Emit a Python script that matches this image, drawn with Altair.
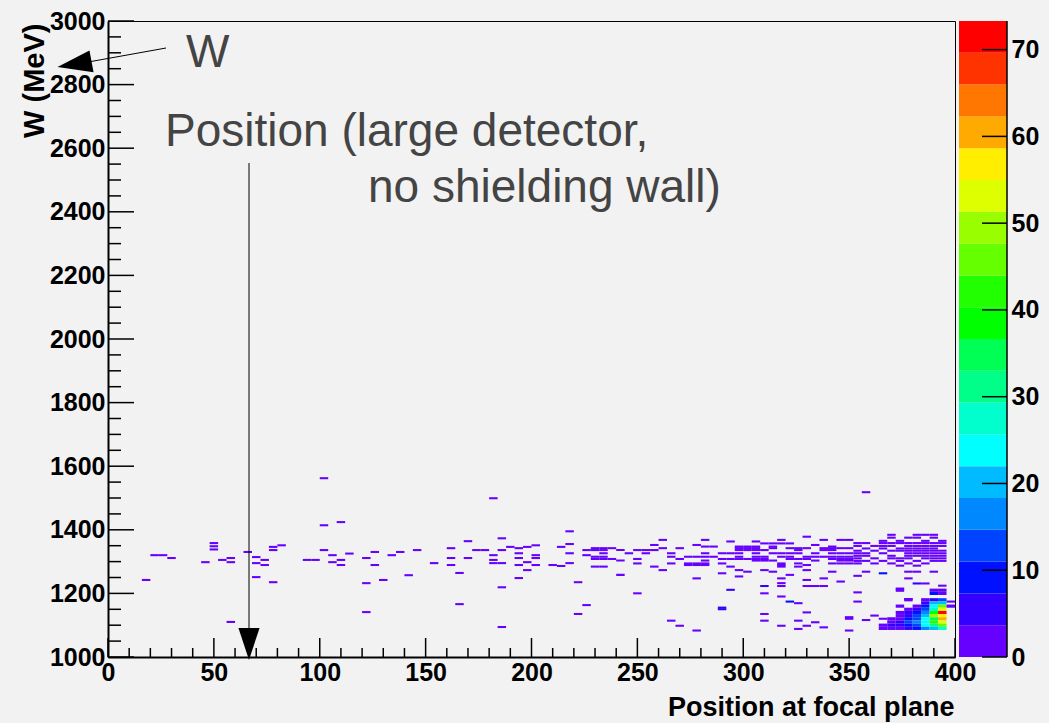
import altair as alt
import pandas as pd

# ---------------- data ----------------
# isolated cells, x < 228 : (position bin start, W bin start, counts)
sparse_cells = [
    (16, 1239, 1), (20, 1317, 1), (24, 1317, 1), (28, 1308, 1), (44, 1295, 1),
    (48, 1355, 1), (48, 1345, 1), (48, 1335, 1), (52, 1302, 1), (56, 1308, 1),
    (56, 1295, 1), (56, 1107, 1), (64, 1327, 1), (68, 1311, 1), (68, 1292, 1),
    (68, 1248, 1), (72, 1302, 1), (72, 1286, 1), (76, 1343, 1), (76, 1333, 1),
    (76, 1232, 1), (80, 1348, 1), (92, 1302, 1), (96, 1302, 1), (100, 1559, 1),
    (100, 1411, 1), (100, 1333, 1), (104, 1317, 1), (104, 1295, 1), (108, 1421, 1),
    (108, 1302, 1), (108, 1286, 1), (112, 1322, 1), (120, 1308, 1), (120, 1229, 1),
    (120, 1138, 1), (124, 1327, 1), (124, 1286, 1), (128, 1239, 1), (132, 1317, 1),
    (136, 1327, 1), (140, 1254, 1), (144, 1333, 1), (152, 1292, 1), (160, 1339, 1),
    (160, 1308, 1), (160, 1286, 1), (164, 1261, 1), (164, 1163, 1), (168, 1361, 3),
    (168, 1308, 1), (172, 1333, 1), (176, 1333, 1), (180, 1496, 1), (180, 1317, 1),
    (180, 1302, 1), (180, 1292, 1), (184, 1292, 1), (184, 1370, 1), (184, 1333, 3),
    (184, 1216, 1), (184, 1091, 1), (188, 1343, 1), (192, 1339, 1), (192, 1323, 1),
    (192, 1308, 1), (192, 1286, 1), (192, 1245, 1), (196, 1343, 1), (196, 1295, 1),
    (196, 1270, 1), (200, 1348, 1), (200, 1317, 1), (200, 1308, 1), (200, 1286, 1),
    (208, 1286, 1), (212, 1343, 1), (212, 1283, 1), (216, 1392, 1), (216, 1352, 1),
    (216, 1323, 1), (216, 1292, 1), (220, 1232, 1), (220, 1132, 1), (224, 1333, 1),
    (224, 1317, 1), (224, 1160, 1),
]

# band of cells, x 228-348
band_cells = [
    (328, 1375, 1),
    (260, 1365, 1), (280, 1365, 1), (316, 1365, 1), (336, 1365, 1), (344, 1365, 1), (348, 1365, 2),
    (292, 1360, 1), (304, 1360, 1),
    (308, 1354, 2), (312, 1354, 2), (316, 1354, 2), (320, 1354, 2),
    (256, 1349, 1), (276, 1349, 1), (332, 1349, 1),
    (280, 1344, 1), (284, 1344, 1), (296, 1344, 1), (300, 1344, 1), (304, 1344, 1), (312, 1344, 1), (340, 1344, 2),
    (228, 1339, 1), (232, 1339, 1), (236, 1339, 2), (260, 1339, 1), (268, 1339, 1), (296, 1339, 1),
    (300, 1339, 1), (304, 1339, 1), (312, 1339, 1), (320, 1339, 1), (324, 1339, 2), (328, 1339, 2),
    (336, 1339, 1), (340, 1339, 2), (344, 1339, 1), (348, 1339, 1),
    (228, 1333, 1), (232, 1333, 1), (240, 1333, 1), (248, 1333, 1), (252, 1333, 1), (256, 1333, 2),
    (296, 1333, 1), (300, 1333, 1), (304, 1333, 1), (308, 1333, 1), (324, 1333, 1), (336, 1333, 1), (340, 1333, 2),
    (232, 1323, 1), (244, 1323, 1), (252, 1323, 1), (264, 1323, 1), (280, 1323, 1), (288, 1323, 1),
    (292, 1323, 1), (296, 1323, 1), (304, 1323, 2), (312, 1323, 2), (316, 1323, 1), (320, 1323, 1),
    (324, 1323, 2), (332, 1323, 1), (340, 1323, 2), (344, 1323, 1), (348, 1323, 1),
    (228, 1312, 1), (232, 1312, 1), (264, 1312, 1), (272, 1312, 1), (276, 1312, 1), (280, 1312, 1),
    (284, 1312, 1), (296, 1312, 1), (304, 1312, 2), (308, 1312, 2), (316, 1312, 1), (320, 1312, 1),
    (328, 1312, 1), (332, 1312, 2), (336, 1312, 2), (340, 1312, 2), (344, 1312, 2), (348, 1312, 2),
    (228, 1305, 2), (232, 1305, 1), (236, 1305, 1), (248, 1305, 1), (268, 1305, 1), (288, 1305, 1),
    (292, 1305, 1), (296, 1305, 1), (300, 1305, 1), (304, 1305, 2), (308, 1305, 2), (320, 1305, 1),
    (324, 1305, 2), (328, 1305, 2), (340, 1305, 2), (344, 1305, 2), (348, 1305, 2),
    (240, 1300, 2), (280, 1300, 1), (304, 1300, 2), (308, 1300, 2), (312, 1300, 1), (332, 1300, 1),
    (344, 1300, 2), (348, 1300, 2),
    (248, 1291, 2), (264, 1291, 1), (272, 1291, 2), (276, 1291, 2), (280, 1291, 2), (288, 1291, 1),
    (316, 1291, 2), (324, 1291, 1), (340, 1291, 2), (344, 1291, 1), (348, 1291, 1),
    (272, 1286, 2), (276, 1286, 2), (280, 1286, 2), (316, 1286, 2), (328, 1286, 1),
    (228, 1281, 1), (232, 1281, 1), (256, 1281, 1), (292, 1281, 1), (316, 1281, 1), (324, 1281, 1),
    (260, 1270, 1), (296, 1270, 1), (308, 1270, 1), (328, 1270, 1),
    (300, 1265, 1), (312, 1265, 2), (340, 1265, 1),
    (288, 1260, 1), (240, 1255, 1), (320, 1255, 1), (296, 1250, 1),
    (276, 1244, 1), (316, 1244, 1), (336, 1244, 1), (328, 1239, 1), (344, 1234, 1), (316, 1229, 1),
    (308, 1220, 4), (316, 1220, 1), (328, 1220, 1), (332, 1220, 1), (336, 1220, 1),
    (292, 1208, 5), (248, 1197, 1), (308, 1197, 1), (316, 1187, 1), (320, 1171, 8), (324, 1166, 1),
    (288, 1152, 4), (288, 1147, 4), (328, 1137, 1), (308, 1132, 1), (348, 1122, 1),
    (264, 1111, 1), (308, 1111, 1), (324, 1111, 1), (332, 1106, 1),
    (268, 1095, 1), (316, 1095, 1), (328, 1095, 1), (336, 1090, 1), (324, 1085, 1),
    (276, 1080, 1), (348, 1080, 1),
]

# band of cells, x 352-396
right_cells = [
    (356, 1515, 1),
    (368, 1381, 1), (380, 1381, 1), (384, 1381, 1), (388, 1381, 1),
    (368, 1372, 1), (376, 1372, 1), (380, 1372, 1), (388, 1372, 1),
    (364, 1362, 1), (372, 1362, 1), (384, 1362, 1), (392, 1362, 1),
    (352, 1355, 2), (356, 1355, 2), (364, 1355, 2), (368, 1355, 1), (372, 1355, 1), (376, 1355, 2),
    (380, 1355, 2), (384, 1355, 2), (388, 1355, 2), (392, 1355, 2),
    (352, 1346, 1), (360, 1346, 1), (364, 1346, 1), (368, 1346, 1), (376, 1346, 1), (380, 1346, 2),
    (384, 1346, 2), (388, 1346, 2), (392, 1346, 1),
    (356, 1338, 1), (364, 1338, 1), (372, 1338, 1), (376, 1338, 2), (380, 1338, 2), (384, 1338, 2), (388, 1338, 2),
    (352, 1331, 2), (360, 1331, 1), (368, 1331, 1), (372, 1331, 2), (376, 1331, 2), (380, 1331, 2),
    (384, 1331, 2), (388, 1331, 2), (392, 1331, 2),
    (352, 1323, 2), (356, 1323, 1), (364, 1323, 1), (376, 1323, 2), (380, 1323, 2), (384, 1323, 2),
    (388, 1323, 2), (392, 1323, 2),
    (352, 1315, 1), (356, 1315, 2), (368, 1315, 2), (376, 1315, 2), (380, 1315, 2), (384, 1315, 2),
    (388, 1315, 2), (392, 1315, 2),
    (352, 1307, 1), (360, 1307, 1), (368, 1307, 1), (372, 1307, 1), (376, 1307, 1), (384, 1307, 2),
    (388, 1307, 2), (392, 1307, 2),
    (352, 1299, 2), (356, 1299, 1), (364, 1299, 1), (372, 1299, 1), (380, 1299, 1), (388, 1299, 2), (392, 1299, 2),
    (352, 1291, 1), (360, 1291, 1), (368, 1291, 1), (376, 1291, 1), (384, 1291, 1),
    (372, 1284, 1), (380, 1284, 1),
    (356, 1265, 1), (376, 1265, 1), (380, 1265, 1), (388, 1265, 1), (364, 1260, 8), (352, 1252, 1),
    (376, 1244, 1), (380, 1228, 4), (384, 1228, 1), (392, 1221, 1), (372, 1212, 1), (352, 1200, 1),
    (376, 1179, 1), (352, 1171, 1), (396, 1171, 1), (360, 1127, 1), (364, 1117, 1), (348, 1117, 1),
    (356, 1113, 1),
]

# peak region, 10 MeV rows: (position bin start, W bin start, counts)
peak_cells = [
    (372, 1205, 1), (388, 1205, 2), (392, 1205, 2),
    (388, 1195, 9), (392, 1195, 3),
    (376, 1175, 1), (384, 1175, 1), (388, 1175, 5), (392, 1175, 13),
    (384, 1165, 5), (388, 1165, 20), (392, 1165, 20),
    (372, 1155, 1), (380, 1155, 2), (384, 1155, 9), (388, 1155, 23), (392, 1155, 46), (396, 1155, 1),
    (376, 1145, 1), (380, 1145, 5), (384, 1145, 13), (388, 1145, 27), (392, 1145, 53),
    (372, 1135, 1), (376, 1135, 5), (380, 1135, 9), (384, 1135, 16), (388, 1135, 38), (392, 1135, 71),
    (372, 1125, 1), (376, 1125, 5), (380, 1125, 13), (384, 1125, 20), (388, 1125, 49), (392, 1125, 57),
    (368, 1115, 1), (372, 1115, 3), (376, 1115, 9), (380, 1115, 13), (384, 1115, 24), (388, 1115, 35), (392, 1115, 60),
    (368, 1105, 1), (372, 1105, 5), (376, 1105, 12), (380, 1105, 16), (384, 1105, 24), (388, 1105, 42), (392, 1105, 53),
    (364, 1095, 1), (368, 1095, 5), (372, 1095, 5), (376, 1095, 9), (380, 1095, 13), (384, 1095, 24),
    (388, 1095, 31), (392, 1095, 46),
    (364, 1085, 1), (368, 1085, 2), (372, 1085, 3), (376, 1085, 5), (380, 1085, 9), (384, 1085, 16),
    (388, 1085, 20), (392, 1085, 27),
]

palette = [
    "#6600ff", "#3300ff", "#0011ff", "#0044ff", "#0088ff", "#00bbff", "#00ffff",
    "#00ffcc", "#00ff88", "#00ff55", "#00ff00", "#22ff00", "#66ff00", "#99ff00",
    "#ddff00", "#ffee00", "#ffaa00", "#ff7700", "#ff3300", "#ff0000",
]
z_max = 73.3
x_ticks = [0, 50, 100, 150, 200, 250, 300, 350, 400]
y_ticks = [1000, 1200, 1400, 1600, 1800, 2000, 2200, 2400, 2600, 2800, 3000]
z_ticks = [0, 10, 20, 30, 40, 50, 60, 70]

# ---------------- layout constants ----------------
W, H = 847, 636
FONT = "Liberation Sans"

rows = []
for (x, y, n) in sparse_cells + band_cells + right_cells:
    rows.append({"x": x, "x2": x + 4, "y": y, "y2": y + 6.5, "n": n})
for (x, y, n) in peak_cells:
    rows.append({"x": x, "x2": x + 4, "y": y, "y2": y + 10, "n": n})
cells_df = pd.DataFrame(rows)

xs = alt.Scale(domain=[0, 400], nice=False, zero=False)
ys = alt.Scale(domain=[1000, 3000], nice=False, zero=False)
zs = alt.Scale(domain=[0, z_max], nice=False, zero=False)
cs = alt.Scale(type="quantize", domain=[0, z_max], range=palette, nice=False, zero=False)

x_axis = alt.Axis(values=x_ticks, ticks=False, grid=False, domain=True, domainColor="black",
                  domainWidth=2, labelFont=FONT, labelFontWeight="bold", labelFontSize=25,
                  labelColor="black", labelPadding=3, labelFlush=False, format="d",
                  title="Position at focal plane", titleFont=FONT, titleFontWeight="bold",
                  titleFontSize=27, titleColor="black", titleAnchor="end", titleAlign="right",
                  titleX=W - 1, titleY=58, titleBaseline="alphabetic")
y_axis = alt.Axis(values=y_ticks, ticks=False, grid=False, domain=True, domainColor="black",
                  domainWidth=2, labelFont=FONT, labelFontWeight="bold", labelFontSize=25,
                  labelColor="black", labelPadding=3, labelFlush=False, format="d",
                  title="W (MeV)", titleFont=FONT, titleFontWeight="bold", titleFontSize=29,
                  titleColor="black", titleAngle=270, titleAlign="right", titleBaseline="alphabetic",
                  titleX=-65, titleY=2)


def X(f):
    return alt.X(f, type="quantitative", scale=xs, axis=x_axis)


def Y(f):
    return alt.Y(f, type="quantitative", scale=ys, axis=y_axis)


cells = alt.Chart(cells_df).mark_rect(strokeWidth=0).encode(
    x=X("x"), x2="x2", y=Y("y"), y2="y2",
    color=alt.Color("n:Q", scale=cs, legend=None),
)

# inward ticks (ROOT style)
y_major = pd.DataFrame({"y": y_ticks})
y_minor = pd.DataFrame({"y": [v for v in range(1000, 3001, 50) if v % 200 != 0]})
x_major = pd.DataFrame({"x": [v for v in range(0, 401, 50)]})
x_minor = pd.DataFrame({"x": [v for v in range(0, 401, 10) if v % 50 != 0]})

ytm = alt.Chart(y_major).mark_rule(color="black", strokeWidth=1.5).encode(
    y=Y("y"), x=alt.value(0), x2=alt.value(26))
ytn = alt.Chart(y_minor).mark_rule(color="black", strokeWidth=1.5).encode(
    y=Y("y"), x=alt.value(0), x2=alt.value(13))
xtm = alt.Chart(x_major).mark_rule(color="black", strokeWidth=1.5).encode(
    x=X("x"), y=alt.value(H), y2=alt.value(H - 19))
xtn = alt.Chart(x_minor).mark_rule(color="black", strokeWidth=1.5).encode(
    x=X("x"), y=alt.value(H), y2=alt.value(H - 9))

# annotations
one = pd.DataFrame({"a": [0]})
TXT = "#444444"
t_w = alt.Chart(one).mark_text(text="W", font=FONT, fontSize=46, color=TXT, align="left",
                               baseline="alphabetic").encode(x=alt.value(78), y=alt.value(46))
t_p1 = alt.Chart(one).mark_text(text="Position (large detector,", font=FONT, fontSize=46, color=TXT,
                                align="left", baseline="alphabetic").encode(x=alt.value(57), y=alt.value(125))
t_p2 = alt.Chart(one).mark_text(text="no shielding wall)", font=FONT, fontSize=46, color=TXT,
                                align="left", baseline="alphabetic").encode(x=alt.value(260), y=alt.value(181))

w_line = alt.Chart(one).mark_rule(color="black", strokeWidth=1).encode(
    x=alt.value(58), y=alt.value(27), x2=alt.value(-17), y2=alt.value(40.5))
w_head = alt.Chart(one).mark_point(
    shape="M -0.943 0.157 L 0.829 -0.757 L 1.057 0.443 Z", filled=True, size=1300,
    color="black", opacity=1).encode(x=alt.value(-33.5), y=alt.value(43.25))
p_line = alt.Chart(one).mark_rule(color="black", strokeWidth=1).encode(
    x=alt.value(141), y=alt.value(142), y2=alt.value(608))
p_head = alt.Chart(one).mark_point(
    shape="M -0.66 -1 L 0.66 -1 L 0 1 Z", filled=True, size=1024,
    color="black", opacity=1).encode(x=alt.value(141), y=alt.value(623))

main = alt.layer(cells, ytm, ytn, xtm, xtn, w_line, w_head, p_line, p_head, t_w, t_p1, t_p2)

# colour bar
band_w = z_max / len(palette)
cb_df = pd.DataFrame({
    "lo": [i * band_w for i in range(len(palette))],
    "hi": [(i + 1) * band_w for i in range(len(palette))],
    "mid": [(i + 0.5) * band_w for i in range(len(palette))],
})
z_axis = alt.Axis(orient="right", offset=52, values=z_ticks, ticks=False, grid=False, domain=False,
                  labelFont=FONT, labelFontWeight="bold", labelFontSize=25, labelColor="black",
                  labelPadding=4, labelFlush=False, title=None)


def Z(f):
    return alt.Y(f, type="quantitative", scale=zs, axis=z_axis)


cb = alt.Chart(cb_df).mark_rect(strokeWidth=0).encode(
    x=alt.value(851), x2=alt.value(899), y=Z("lo"), y2="hi",
    color=alt.Color("mid:Q", scale=cs, legend=None))
cb_t = alt.Chart(pd.DataFrame({"lo": z_ticks})).mark_rule(color="black", strokeWidth=1.5).encode(
    y=Z("lo"), x=alt.value(874), x2=alt.value(899))
cb_e = alt.Chart(one).mark_rule(color="black", strokeWidth=1.5).encode(
    x=alt.value(899), y=alt.value(0), y2=alt.value(H))
cbar = alt.layer(cb, cb_t, cb_e)

chart = alt.layer(main, cbar).resolve_scale(y="independent").properties(
    width=W, height=H,
    padding={"left": 108, "top": 21, "right": 1049 - 108 - W, "bottom": 723 - 21 - H},
    autosize=alt.AutoSizeParams(type="none"),
    background="#f2f2f2",
).configure_view(stroke="black", strokeWidth=1, fill="#f2f2f2")

chart.save("out.html", embed_options={"renderer": "svg", "actions": False})
